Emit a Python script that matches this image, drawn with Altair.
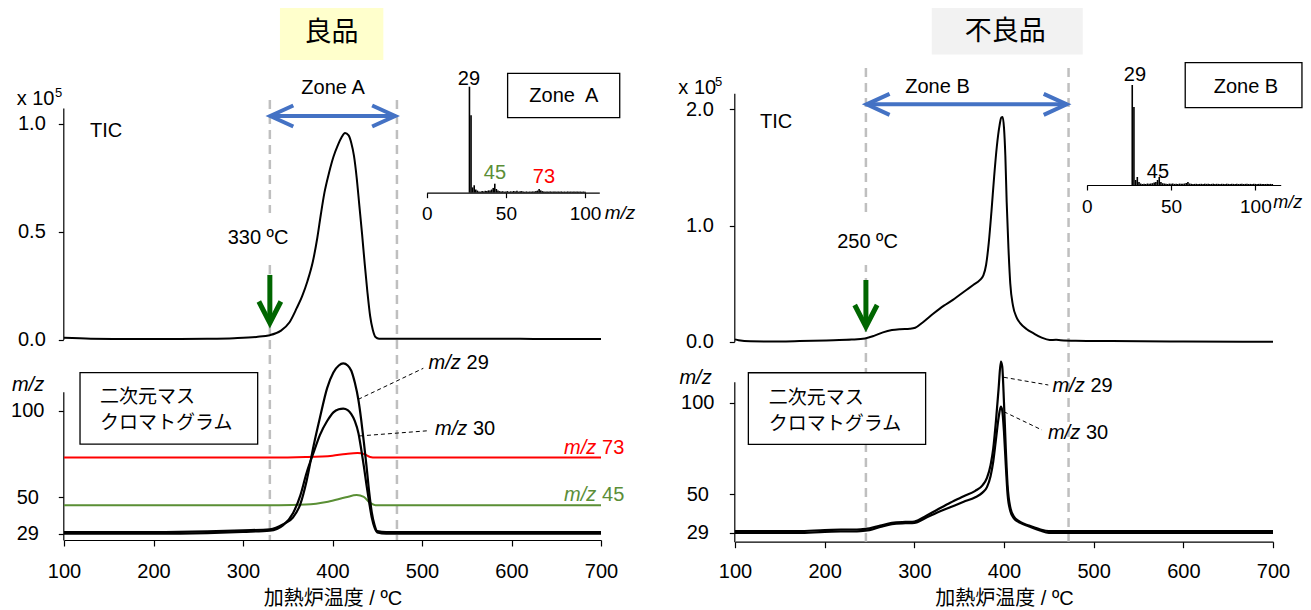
import altair as alt
import pandas as pd

# ---------------- data ----------------
# TIC, good product (x1e5)
tic_good_temp = [100,130,180,230,260,290,315,330,342,352,360,366,372,378,383,387,391,396,401,406,
                 410,414,418,421,424,427,430,433,436,439,442,445,448,452,470,520,600,650,700]
tic_good_val = [0.008,0.004,0.002,0.002,0.003,0.006,0.012,0.020,0.040,0.080,0.145,0.20,0.27,0.36,0.47,0.58,0.68,0.77,0.845,0.90,
                0.935,0.956,0.945,0.91,0.85,0.75,0.62,0.49,0.35,0.22,0.11,0.045,0.012,0.004,0.003,0.003,0.003,0.002,0.002]
# TIC, defective product (x1e5)
tic_bad_temp = [100,104,117,150,172,210,230,245,255,265,275,284,295,301,310,321,333,343,350,358,
                366,373,377,380,383,386,389,392,395,397,398.5,400,401.5,403,405,407,410,414,418,425,
                433,442,451,458,463,480,520,600,700]
tic_bad_val = [0.02,0.012,0.003,0.002,0.005,0.013,0.018,0.028,0.05,0.08,0.10,0.108,0.112,0.12,0.17,0.24,0.31,0.36,0.40,0.445,
               0.49,0.53,0.57,0.66,0.85,1.12,1.42,1.68,1.86,1.93,1.935,1.84,1.6,1.2,0.8,0.5,0.31,0.21,0.16,0.11,
               0.072,0.035,0.015,0.016,0.013,0.008,0.005,0.002,0.0]

# 2D mass chromatogram, good product
good_temp = [100,200,260,300,330,345,356,364,371,379,386,394,401,407,412,417,421,425,429,432,
             435,438,441,444,447,450,460,700]
good_mz29 = [30.0,30.0,30.4,31.0,31.6,34.5,38.5,46,59.3,80,96,113,122,126,127.2,126,123,116,106,95,
             82,68,53,41,34,30.5,30.0,30.0]
good_mz30 = [29.0,29.0,29.4,30.1,30.8,34.0,41,51,64,76,86,94,99,100.8,101.2,100.3,98,94,87,78,
             68,57,47,38,32.5,29.8,29.0,29.0]
good_temp73 = [100,330,370,400,415,428,436,442,448,700]
good_mz73 = [72.9,72.9,73.2,74.0,75.0,75.5,74.8,73.3,72.9,72.9]
good_temp45 = [100,340,370,395,415,427,435,442,448,700]
good_mz45 = [45.4,45.4,45.8,47.5,50.0,51.3,50.2,46.8,45.5,45.4]

# 2D mass chromatogram, defective product
bad_temp = [100,170,200,240,250,262,275,290,300,312,325,340,355,368,376,381,385,388,391,394,
            396.5,398,400,402,404,407,411,418,428,440,450,700]
bad_mz29 = [30.0,30.0,30.6,31.0,31.5,33.0,34.5,35.0,35.2,38,41.5,45.5,49,52,55,59,66,75,90,108,
            122.6,120,100,75,55,43,38,35,33,31,30.0,30.0]
bad_mz30 = [29.0,29.0,29.6,30.0,30.5,32.2,33.8,34.3,34.5,37,40,43,46,48.5,51,54,60,68,80,92,
            98,96,84,66,50,41,37,34.5,32.5,30.3,29.0,29.0]

# Mass spectra (relative intensity)
specA_mz = [27,28,29,30,31,32,33,34,35,36,37,38,39,40,41,42,43,44,45,46,47,48,49,50,51,52,53,54,55,56,
            57,58,59,60,61,62,63,64,65,66,67,68,69,70,71,72,73,74,75,76,77,78,79,80,81,82,83,84,85,86,
            87,88,89,90,91,92,93,94,95,96,97,98,99,100]
specA_int = [1.00,0.73,0.05,0.07,0.03,0.02,0.012,0.010,0.015,0.012,0.018,0.015,0.022,0.02,0.03,0.045,0.085,0.035,0.02,0.015,
             0.012,0.014,0.010,0.012,0.015,0.010,0.013,0.011,0.016,0.012,0.018,0.010,0.014,0.015,0.011,0.010,0.012,0.010,0.011,0.010,
             0.012,0.011,0.015,0.020,0.035,0.022,0.015,0.012,0.010,0.011,0.010,0.012,0.010,0.011,0.012,0.010,0.011,0.010,0.012,0.010,
             0.011,0.010,0.012,0.010,0.011,0.010,0.011,0.010,0.012,0.010,0.011,0.010,0.011,0.010]
specB_mz = [27,28,29,30,31,32,33,34,35,36,37,38,39,40,41,42,43,44,45,46,47,48,49,50,51,52,53,54,55,56,
            57,58,59,60,61,62,63,64,65,66,67,68,69,70,71,72,73,74,75,76,77,78,79,80,81,82,83,84,85,86,
            87,88,89,90,91,92,93,94,95,96,97,98,99,100,101,102,103,104,105,106,107,108,109,110]
specB_int = [1.00,0.78,0.05,0.08,0.03,0.015,0.010,0.012,0.010,0.015,0.012,0.014,0.018,0.025,0.03,0.05,0.08,0.03,0.018,0.015,
             0.012,0.010,0.014,0.012,0.015,0.011,0.013,0.010,0.014,0.012,0.013,0.015,0.020,0.030,0.015,0.012,0.010,0.011,0.012,0.010,
             0.011,0.012,0.010,0.013,0.011,0.012,0.010,0.011,0.013,0.010,0.012,0.011,0.010,0.012,0.011,0.010,0.013,0.011,0.010,0.012,
             0.011,0.010,0.012,0.010,0.011,0.012,0.010,0.011,0.012,0.010,0.011,0.010,0.012,0.011,0.010,0.011,0.012,0.010,0.011,0.010,
             0.011,0.010,0.011,0.010]

zone_A = [330, 472]
zone_B = [246, 472]

# ---------------- styling / frames ----------------
FONT = "Liberation Sans, Arial, Noto Sans CJK JP"
JFONT = "Noto Sans CJK JP"
GREEN_T = "#5b8e37"
RED = "#ff0000"
BLUE = "#4472c4"
DKGREEN = "#006600"
W, H = 1295, 602

FR = {
    'LT': {'x': ([100, 700], [56, 593]), 'y': ([0, 1.072], [331.5, 100])},
    'L2': {'x': ([100, 700], [56, 593]), 'y': ([25.4, 110.9], [532, 383.7])},
    'LI': {'x': ([0, 109], [418.7, 591.3]), 'y': ([0, 1], [184.7, 78.7])},
    'RT': {'x': ([100, 700], [727, 1265]), 'y': ([0, 2.138], [333.7, 85.3])},
    'R2': {'x': ([100, 700], [727, 1265]), 'y': ([24.2, 111.6], [533.7, 373.7])},
    'RI': {'x': ([0, 115], [1078.7, 1272.7]), 'y': ([0, 1], [177, 77])},
}


def S(fr, ch):
    d, r = FR[fr][ch]
    return alt.Scale(domain=d, range=r, nice=False, zero=False)


def ex(fr, f='x', axis=None):
    return alt.X(f, type='quantitative', scale=S(fr, 'x'), axis=axis)


def ey(fr, f='y', axis=None):
    return alt.Y(f, type='quantitative', scale=S(fr, 'y'), axis=axis)


def text_layer(fr, rows, **kw):
    df = pd.DataFrame(rows, columns=['t', 'x', 'y', 'c'])
    base = dict(font=FONT, fontSize=20, baseline='middle', align='left')
    base.update(kw)
    return alt.Chart(df).mark_text(**base).encode(
        x=ex(fr), y=ey(fr), text='t:N', color=alt.Color('c:N', scale=None))


def rect_layer(fr, rows, **kw):
    df = pd.DataFrame(rows, columns=['x', 'x2', 'y', 'y2'])
    return alt.Chart(df).mark_rect(**kw).encode(x=ex(fr), x2='x2', y=ey(fr), y2='y2')


def rule_layer(fr, rows, **kw):
    df = pd.DataFrame(rows, columns=['x', 'x2', 'y', 'y2'])
    return alt.Chart(df).mark_rule(**kw).encode(x=ex(fr), x2='x2', y=ey(fr), y2='y2')


def poly_layer(fr, rows, **kw):
    df = pd.DataFrame(rows, columns=['g', 'o', 'x', 'y'])
    return alt.Chart(df).mark_line(**kw).encode(
        x=ex(fr), y=ey(fr), detail='g:N', order='o:Q')


def yaxis(offset, values, fmt, align, pad):
    return alt.Axis(orient='left', offset=offset, values=values, format=fmt, title=None, grid=False,
                    labelFont=FONT, labelFontSize=20, labelColor='black', labelAlign=align,
                    labelPadding=pad, tickSize=5, tickColor='black', tickWidth=1.2,
                    domainColor='black', domainWidth=1.2, labelOverlap=False)


def xaxis(offset, values, pad, ticksize, fontsize, title=None):
    kw = dict(orient='bottom', offset=offset, values=values, format='d', grid=False,
              labelFont=FONT, labelFontSize=fontsize, labelColor='black', labelPadding=pad,
              labelFlush=False, labelOverlap=False, tickSize=ticksize, tickColor='black',
              tickWidth=1.2, domainColor='black', domainWidth=1.2)
    if title is None:
        kw['title'] = None
    else:
        kw.update(title=title, titleFont=FONT, titleFontSize=20, titleFontWeight='normal',
                  titleColor='black', titlePadding=7)
    return alt.Axis(**kw)


layers = []

# title boxes
layers.append(rect_layer('LT', [(341.3, 456.8, 1.294, 1.549)], color='#ffffcc'))
layers.append(rect_layer('RT', [(319.4, 487.8, 2.473, 2.94)], color='#f2f2f2'))

# zone dashed lines
dash = dict(color='#bfbfbf', strokeWidth=2.5, strokeDash=[9, 6])
layers.append(rule_layer('LT', [(zone_A[0], zone_A[0], 1.109, -0.928), (zone_A[1], zone_A[1], 1.109, -0.928)], **dash))
layers.append(rule_layer('RT', [(zone_B[0], zone_B[0], 2.355, -1.721), (zone_B[1], zone_B[1], 2.355, -1.721)], **dash))

# white backgrounds behind onset labels
layers.append(rect_layer('LT', [(281, 352.5, 0.368, 0.586)], color='white'))
layers.append(rect_layer('RT', [(212.6, 282.9, 0.66, 1.074)], color='white'))

# TIC curves
df_tg = pd.DataFrame({'x': tic_good_temp, 'y': tic_good_val})
layers.append(alt.Chart(df_tg).mark_line(color='black', strokeWidth=2, interpolate='monotone').encode(
    x=ex('LT'), y=ey('LT', axis=yaxis(-55.3, [0, 0.5, 1.0], '.1f', 'right', 13))))
df_tb = pd.DataFrame({'x': tic_bad_temp, 'y': tic_bad_val})
layers.append(alt.Chart(df_tb).mark_line(color='black', strokeWidth=2, interpolate='monotone').encode(
    x=ex('RT'), y=ey('RT', axis=yaxis(-726.3, [0, 1.0, 2.0], '.1f', 'right', 16))))

# 2D chromatograms: coloured traces
df73 = pd.DataFrame({'x': good_temp73, 'y': good_mz73})
layers.append(alt.Chart(df73).mark_line(color=RED, strokeWidth=2, interpolate='monotone').encode(x=ex('L2'), y=ey('L2')))
df45 = pd.DataFrame({'x': good_temp45, 'y': good_mz45})
layers.append(alt.Chart(df45).mark_line(color='#5a8f35', strokeWidth=2, interpolate='monotone').encode(x=ex('L2'), y=ey('L2')))

# black traces
df_g2 = pd.concat([pd.DataFrame({'x': good_temp, 'y': good_mz29, 's': 'm29'}),
                   pd.DataFrame({'x': good_temp, 'y': good_mz30, 's': 'm30'})])
layers.append(alt.Chart(df_g2).mark_line(color='black', strokeWidth=2.2, interpolate='monotone').encode(
    x=ex('L2', axis=xaxis(532 - H, [100, 200, 300, 400, 500, 600, 700], 15, 6, 20, '加熱炉温度 / ºC')),
    y=ey('L2', axis=yaxis(-55.3, [29, 50, 100], 'd', 'center', 31)), detail='s:N'))
df_b2 = pd.concat([pd.DataFrame({'x': bad_temp, 'y': bad_mz29, 's': 'm29'}),
                   pd.DataFrame({'x': bad_temp, 'y': bad_mz30, 's': 'm30'})])
layers.append(alt.Chart(df_b2).mark_line(color='black', strokeWidth=2.2, interpolate='monotone').encode(
    x=ex('R2', axis=xaxis(533.7 - H, [100, 200, 300, 400, 500, 600, 700], 14, 6, 20, '加熱炉温度 / ºC')),
    y=ey('R2', axis=yaxis(-726.3, [29, 50, 100], 'd', 'center', 32)), detail='s:N'))

# mass spectra insets
df_sA = pd.DataFrame({'x': specA_mz, 'y': specA_int, 'z': 0.0})
layers.append(alt.Chart(df_sA).mark_rule(color='black', strokeWidth=1.6).encode(
    x=ex('LI', axis=xaxis(184.7 - H, [0, 50, 100], 7, 5, 19)), y=ey('LI'), y2='z'))
df_sB = pd.DataFrame({'x': specB_mz, 'y': specB_int, 'z': 0.0})
layers.append(alt.Chart(df_sB).mark_rule(color='black', strokeWidth=1.6).encode(
    x=ex('RI', axis=xaxis(177 - H, [0, 50, 100], 7, 5, 19)), y=ey('RI'), y2='z'))

# framed boxes
box = dict(fill='white', stroke='black', strokeWidth=1.3)
layers.append(rect_layer('LI', [(51.1, 121.9, 0.708, 1.126)], **box))
layers.append(rect_layer('RI', [(58.4, 127.6, 0.773, 1.223)], **box))
layers.append(rect_layer('L2', [(117.9, 316.4, 80.7, 121.9)], **box))
layers.append(rect_layer('R2', [(114.9, 312.6, 77.4, 116.5)], **box))

# leader lines
lead = dict(color='black', strokeWidth=1, strokeDash=[4, 3])
layers.append(rule_layer('L2', [(428.8, 501.5, 106.5, 124.4), (430.7, 507, 85.4, 88.4)], **lead))
layers.append(rule_layer('R2', [(399.9, 449.4, 114.0, 109.8), (399.9, 442.4, 95.2, 85.2)], **lead))

# ---- texts ----
layers.append(text_layer('LT', [('良品', 399, 1.419, 'black')], font=JFONT, fontSize=27, align='center'))
layers.append(text_layer('RT', [('不良品', 401.3, 2.668, 'black')], font=JFONT, fontSize=27, align='center'))
layers.append(text_layer('LT', [('Zone A', 400.6, 1.164, 'black'), ('330 ºC', 316.8, 0.47, 'black')], align='center'))
layers.append(text_layer('RT', [('Zone B', 325.8, 2.194, 'black'), ('250 ºC', 247.8, 0.859, 'black')], align='center'))
layers.append(text_layer('LT', [('TIC', 129, 0.965, 'black'), ('x 10', 47.1, 1.112, 'black')]))
layers.append(text_layer('RT', [('TIC', 127.9, 1.893, 'black'), ('x 10', 36.8, 2.181, 'black')]))
layers.append(text_layer('LT', [('5', 89.9, 1.141, 'black')], fontSize=13))
layers.append(text_layer('RT', [('5', 77.7, 2.235, 'black')], fontSize=13))

# 2D box texts
layers.append(text_layer('L2', [('二次元マス', 140.2, 107.7, 'black'), ('クロマトグラム', 140.2, 92.7, 'black')], font=JFONT, fontSize=19))
layers.append(text_layer('R2', [('二次元マス', 137.6, 102.5, 'black'), ('クロマトグラム', 137.6, 88.5, 'black')], font=JFONT, fontSize=19))
# y-axis m/z labels
layers.append(text_layer('L2', [('m/z', 59.8, 114.8, 'black')], fontStyle='italic', align='center'))
layers.append(text_layer('R2', [('m/z', 56, 113.6, 'black')], fontStyle='italic', align='center'))
# trace labels
layers.append(text_layer('L2', [('m/z', 507.3, 127.6, 'black'), ('m/z', 514.5, 89.2, 'black'),
                                ('m/z', 658.7, 78.3, RED), ('m/z', 658.7, 51.3, GREEN_T)], fontStyle='italic'))
layers.append(text_layer('L2', [('29', 507.3, 127.6, 'black'), ('30', 514.5, 89.2, 'black'),
                                ('73', 658.7, 78.3, RED), ('45', 658.7, 51.3, GREEN_T)], dx=38))
layers.append(text_layer('R2', [('m/z', 454, 109.2, 'black'), ('m/z', 449, 83.4, 'black')], fontStyle='italic'))
layers.append(text_layer('R2', [('29', 454, 109.2, 'black'), ('30', 449, 83.4, 'black')], dx=38))

# inset texts
layers.append(text_layer('LI', [('29', 26.7, 1.073, 'black'), ('45', 43.1, 0.183, GREEN_T), ('73', 74, 0.148, RED),
                                ('Zone\u00a0 A', 86.6, 0.912, 'black')], align='center'))
layers.append(text_layer('RI', [('29', 28.6, 1.10, 'black'), ('45', 42.2, 0.133, 'black'),
                                ('Zone B', 94.4, 0.983, 'black')], align='center'))
layers.append(text_layer('LI', [('m/z', 112.4, -0.192, 'black')], fontStyle='italic', fontSize=19))
layers.append(text_layer('RI', [('m/z', 110.6, -0.183, 'black')], fontStyle='italic', fontSize=18))

# ---- arrows ----
layers.append(rule_layer('LT', [(330.5, 470, 1.035, 1.035)], color=BLUE, strokeWidth=4))
layers.append(poly_layer('LT', [('a', 0, 356.2, 1.0836), ('a', 1, 330.5, 1.035), ('a', 2, 356.2, 0.9864),
                                ('b', 0, 444.3, 1.0836), ('b', 1, 470, 1.035), ('b', 2, 444.3, 0.9864)],
                         color=BLUE, strokeWidth=4, strokeJoin='miter'))
layers.append(rule_layer('RT', [(246.8, 469.9, 2.043, 2.043)], color=BLUE, strokeWidth=4))
layers.append(poly_layer('RT', [('a', 0, 272.4, 2.1334), ('a', 1, 246.8, 2.043), ('a', 2, 272.4, 1.9526),
                                ('b', 0, 444.3, 2.1334), ('b', 1, 469.9, 2.043), ('b', 2, 444.3, 1.9526)],
                         color=BLUE, strokeWidth=4, strokeJoin='miter'))
layers.append(rule_layer('LT', [(330, 330, 0.299, 0.09)], color=DKGREEN, strokeWidth=5))
layers.append(poly_layer('LT', [('a', 0, 317.7, 0.176), ('a', 1, 330, 0.076), ('a', 2, 342.3, 0.176)],
                         color=DKGREEN, strokeWidth=5, strokeJoin='miter'))
layers.append(rule_layer('RT', [(246, 246, 0.531, 0.145)], color=DKGREEN, strokeWidth=5))
layers.append(poly_layer('RT', [('a', 0, 233.5, 0.316), ('a', 1, 246, 0.129), ('a', 2, 258.5, 0.316)],
                         color=DKGREEN, strokeWidth=5, strokeJoin='miter'))

chart = alt.layer(*layers).resolve_scale(x='independent', y='independent').properties(
    width=W, height=H, autosize=alt.AutoSizeParams(type='none'), padding=0,
    background='white').configure_view(stroke=None)

chart.save("out.html", embed_options={"renderer": "svg", "actions": False})
